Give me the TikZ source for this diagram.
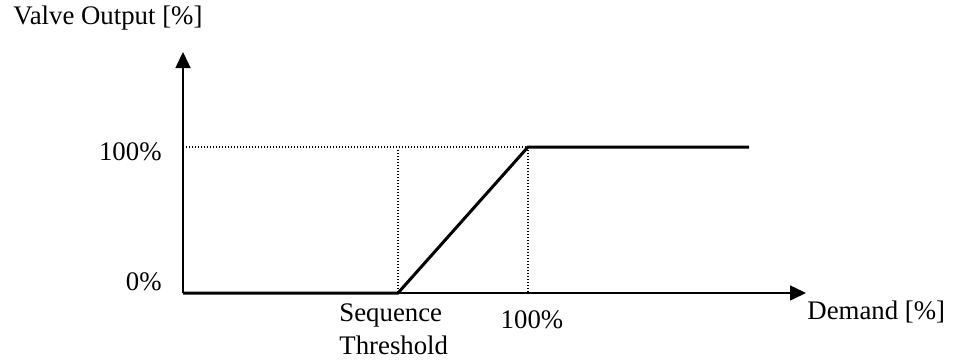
\documentclass[tikz,border=0pt]{standalone}
\usepackage{fontspec}
\setmainfont{Liberation Serif}
\usepackage{tikz}
\usetikzlibrary{arrows.meta}
\tikzset{
  axis/.style={draw=black, line width=0.75pt, -{Triangle[width=7.5pt,length=8pt]}},
  curve/.style={draw=black, line width=1.5pt, line join=miter},
  guide/.style={draw=black, line width=0.6pt, dash pattern=on 0.6pt off 0.9pt},
  lab/.style={text=black, inner sep=0pt, font=\fontsize{13.4}{16.5}\selectfont},
}

\begin{document}
\begin{tikzpicture}[x=0.5pt,y=0.5pt]
  \useasboundingbox (0,0) rectangle (954,361);
  \coordinate (O) at (183,68);
  \coordinate (Ytip) at (183,309);
  \coordinate (Xtip) at (806,68);
  \coordinate (S) at (398,68);
  \coordinate (Stop) at (398,211);
  \coordinate (F) at (528,214);
  \coordinate (Fx) at (528,68);
  \coordinate (Yf) at (183,214);
  \coordinate (E) at (749,214);
  % dotted guides
  \draw[guide] (Yf) -- (F);
  \draw[guide] (Stop) -- (S);
  \draw[guide] (F) -- (Fx);
  % axes
  \draw[axis] (O) -- (Ytip);
  \draw[axis] (O) -- (Xtip);
  % valve curve
  \draw[curve] (O) -- (S) -- (F) -- (E);
  % labels
  \node[lab, anchor=west] (ylab) at (13,343) {Valve Output [\%]};
  \node[lab, anchor=east] (yfull) at (162,209) {100\%};
  \node[lab, anchor=east] (yzero) at (162,79) {0\%};
  \node[lab, anchor=west, align=left] (thr) at (339,32) {Sequence\\Threshold};
  \node[lab] (xfull) at (532,41) {100\%};
  \node[lab, anchor=west] (xlab) at (807,49) {Demand [\%]};
\end{tikzpicture}
\end{document}
